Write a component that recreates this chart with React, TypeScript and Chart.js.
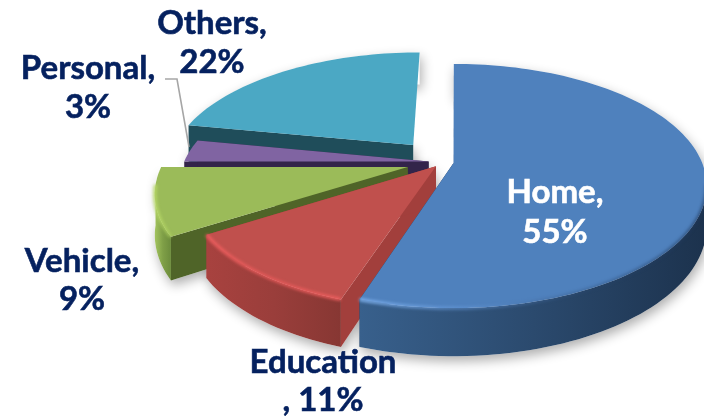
import React, { useEffect, useRef } from "react";
import { Chart, registerables } from "chart.js";

Chart.register(...registerables);

const categories = ["Home", "Education", "Vehicle", "Personal", "Others"];
const shares = [55, 11, 9, 3, 22];
const explodeFractions = [0.05, 0.05, 0.165, 0.065, 0.22];
const rimRadii = [1.015, 0.985, 1.0, 1.0, 1.0];
const topColors = ["#4F81BD", "#C0504D", "#9BBB59", "#8064A2", "#4BA8C4"];
const wallStops = [
  ["#38608C", "#2B4A6E", "#1C324D"],
  ["#A8423F", "#9A3E3B", "#873733"],
  ["#A3C45E", "#7F9F47", "#6C8C3C"],
  ["#3C2A55", "#3C2A55", "#3C2A55"],
  ["#1F4D5A", "#1F4D5A", "#1F4D5A"],
];
const cutColors = ["#1E3450", "#A23F3C", "#4F6428", "#33244A", "#1F4D5A"];
const hideEndCut = [false, false, false, false, true];
const rimStops: (string[] | null)[] = [
  ["rgba(125,175,235,0.95)", "rgba(100,150,215,0.5)", "rgba(40,70,110,0.35)", "rgba(30,55,90,0.6)"],
  ["rgba(238,95,95,0.95)", "rgba(232,90,90,0.85)", "rgba(238,95,95,0.95)"],
  ["rgba(185,218,105,0.9)", "rgba(175,210,95,0.7)"],
  null,
  null,
];

const labelLines = [
  ["Home,", "55%"],
  ["Education", ", 11%"],
  ["Vehicle,", "9%"],
  ["Personal,", "3%"],
  ["Others,", "22%"],
];
const labelBoxes = [
  { x: 555, y: 203, gap: 40, color: "#FFFFFF" },
  { x: 323, y: 373, gap: 38, color: "#05215F" },
  { x: 82, y: 272, gap: 38, color: "#05215F" },
  { x: 88, y: 79, gap: 39, color: "#05215F" },
  { x: 212, y: 34, gap: 39, color: "#05215F" },
];

const view = { ox: 455, oy: 163, rx: 245, ry: 116, k: 0.1866, depth: 39, cu: -0.05, cv: -0.008 };

function project(u: number, v: number, h = 0) {
  const w = 1 - view.k * v;
  return { x: view.ox + (view.rx * u) / w, y: view.oy + (view.ry * v + h) / w };
}

function geometry(arc: any, index: number) {
  const mid = (arc.startAngle + arc.endAngle) / 2;
  const e = (arc.options.offset || 0) / arc.outerRadius;
  const au = view.cu + e * Math.cos(mid);
  const av = view.cv + e * Math.sin(mid);
  const r = rimRadii[index];
  const steps = Math.max(4, Math.ceil((arc.endAngle - arc.startAngle) / 0.03));
  const rim: { u: number; v: number }[] = [];
  for (let i = 0; i <= steps; i++) {
    const a = arc.startAngle + ((arc.endAngle - arc.startAngle) * i) / steps;
    rim.push({ u: au + r * Math.cos(a), v: av + r * Math.sin(a) });
  }
  return { au, av, rim };
}

function poly(ctx: CanvasRenderingContext2D, pts: { x: number; y: number }[], close = true) {
  ctx.beginPath();
  pts.forEach((p, i) => (i ? ctx.lineTo(p.x, p.y) : ctx.moveTo(p.x, p.y)));
  if (close) ctx.closePath();
}

function hGradient(ctx: CanvasRenderingContext2D, pts: { x: number }[], stops: string[]) {
  const xs = pts.map((p) => p.x);
  const g = ctx.createLinearGradient(Math.min(...xs), 0, Math.max(...xs), 0);
  stops.forEach((c, i) => g.addColorStop(stops.length > 1 ? i / (stops.length - 1) : 0, c));
  return g;
}

const pie3d = {
  id: "pie3d",
  beforeDatasetsDraw(chart: any) {
    const ctx: CanvasRenderingContext2D = chart.ctx;
    const arcs = chart.getDatasetMeta(0).data;
    const order = [4, 3, 2, 1, 0];
    const geos = arcs.map(geometry);
    const d = view.depth;

    // soft ground shadow
    ctx.save();
    ctx.shadowColor = "rgba(0,0,0,0.32)";
    ctx.shadowBlur = 12;
    ctx.shadowOffsetX = 2;
    ctx.shadowOffsetY = 5;
    ctx.fillStyle = "#ffffff";
    order.forEach((i) => {
      const g = geos[i];
      const outline = [
        project(g.au, g.av),
        ...g.rim.map((p: any) => project(p.u, p.v)),
        ...g.rim.slice().reverse().map((p: any) => project(p.u, p.v, d)),
        project(g.au, g.av, d),
      ];
      poly(ctx, outline);
      ctx.fill();
    });
    ctx.restore();

    order.forEach((i) => {
      const g = geos[i];
      const apexTop = project(g.au, g.av);
      const apexBot = project(g.au, g.av, d);
      const rimTop = g.rim.map((p: any) => project(p.u, p.v));
      const rimBot = g.rim.map((p: any) => project(p.u, p.v, d));
      const first = rimTop[0];
      const last = rimTop[rimTop.length - 1];

      // cut faces
      ctx.fillStyle = cutColors[i];
      poly(ctx, [apexTop, first, rimBot[0], apexBot]);
      ctx.fill();
      if (!hideEndCut[i]) {
        poly(ctx, [apexTop, last, rimBot[rimBot.length - 1], apexBot]);
        ctx.fill();
      }

      // outer wall, only the part facing the viewer
      const front = g.rim
        .map((_: any, n: number) => n)
        .filter((n: number) => {
          const a = rimTop[n];
          const b = rimTop[Math.min(n + 1, rimTop.length - 1)];
          const c = rimTop[Math.max(n - 1, 0)];
          return b.x - c.x < 0 || Math.abs(b.x - c.x) < 0.01 || a.y > view.oy + 20;
        });
      if (front.length > 1) {
        const wall = [...front.map((n: number) => rimTop[n]), ...front.slice().reverse().map((n: number) => rimBot[n])];
        ctx.fillStyle = hGradient(ctx, wall, wallStops[i]);
        poly(ctx, wall);
        ctx.fill();
      }

      // top face
      ctx.fillStyle = topColors[i];
      poly(ctx, [apexTop, ...rimTop]);
      ctx.fill();

      // bevel highlight on the front rim
      const stops = rimStops[i];
      if (stops && front.length > 1) {
        const strip = front.map((n: number) => rimTop[n]);
        ctx.save();
        ctx.filter = "blur(1.5px)";
        ctx.lineWidth = 3.5;
        ctx.lineCap = "butt";
        ctx.strokeStyle = hGradient(ctx, strip, stops);
        poly(ctx, strip, false);
        ctx.stroke();
        ctx.restore();
      }
    });

    // leader line of the Personal label
    ctx.save();
    ctx.strokeStyle = "#A6A6A6";
    ctx.lineWidth = 1.6;
    ctx.beginPath();
    ctx.moveTo(165, 79);
    ctx.lineTo(177, 79);
    ctx.lineTo(189, 147);
    ctx.stroke();
    ctx.restore();

    // data labels
    ctx.save();
    ctx.font = "700 33px Lato";
    ctx.textAlign = "center";
    ctx.textBaseline = "alphabetic";
    ctx.lineWidth = 0.6;
    labelLines.forEach((lines, i) => {
      const b = labelBoxes[i];
      ctx.fillStyle = b.color;
      ctx.strokeStyle = b.color;
      lines.forEach((t, n) => {
        ctx.fillText(t, b.x, b.y + n * b.gap);
        ctx.strokeText(t, b.x, b.y + n * b.gap);
      });
    });
    ctx.restore();
    return false;
  },
};

export default function App() {
  const ref = useRef<HTMLCanvasElement | null>(null);
  useEffect(() => {
    const chart = new Chart(ref.current as HTMLCanvasElement, {
      type: "pie",
      data: {
        labels: categories,
        datasets: [
          {
            data: shares,
            backgroundColor: topColors,
            borderWidth: 0,
            offset: explodeFractions.map((f) => f * 170),
          },
        ],
      },
      options: {
        responsive: false,
        animation: false,
        rotation: 0,
        layout: { padding: 0 },
        plugins: { legend: { display: false }, tooltip: { enabled: false } },
      },
      plugins: [pie3d],
    } as any);
    return () => chart.destroy();
  }, []);
  return (
    <div style={{ position: "absolute", left: 0, top: 0, width: 704, height: 417, background: "#fff" }}>
      <canvas ref={ref} width={704} height={417} style={{ display: "block" }} />
    </div>
  );
}
